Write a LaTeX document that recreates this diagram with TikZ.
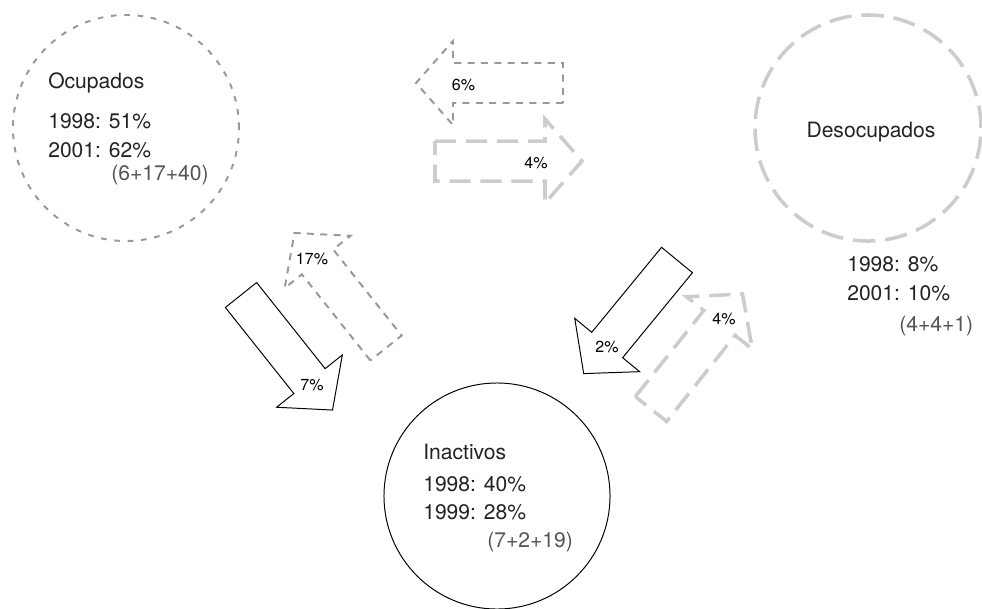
\documentclass[tikz,border=0pt]{standalone}
\usepackage{fontspec}
\setmainfont{TeX Gyre Heros}
\usetikzlibrary{positioning}
\definecolor{flowdark} {RGB}{153,153,153}
\definecolor{flowlight}{RGB}{204,204,204}
\definecolor{txtgray}  {RGB}{35,35,35}
\definecolor{sumgray}  {RGB}{85,85,85}
\tikzset{
  pool/.style={circle,minimum size=5.65cm,inner sep=0pt},
  poolocup/.style={pool,draw=flowdark,line width=1.4pt,
                   dash pattern=on 4pt off 5.5pt},
  pooldesoc/.style={pool,draw=flowlight,line width=2.5pt,
                    dash pattern=on 16pt off 7pt},
  poolinact/.style={pool,draw=black,line width=0.7pt},
  txt/.style={font=\fontsize{15}{18}\selectfont,text=txtgray,
              anchor=base west,inner sep=0pt},
  sumtxt/.style={txt,text=sumgray},
  lbl/.style={font=\fontsize{11.4}{13}\selectfont,inner sep=0pt},
  flow/.pic={\draw[pic actions] (0,-20) -- (110,-20) -- (110,-42) -- (147,0)
                 -- (110,42) -- (110,20) -- (0,20) -- cycle;},
  flowdk/.style={draw=flowdark,line width=1.4pt,dash pattern=on 5pt off 4.5pt},
  flowlt/.style={draw=flowlight,line width=2.5pt,dash pattern=on 15pt off 7pt},
  flowbk/.style={draw=black,line width=0.7pt},
}

\begin{document}
\begin{tikzpicture}[x=0.025cm,y=-0.025cm]
  \useasboundingbox (0,0) rectangle (982,608);

  % Pools
  \node[poolocup]  (OCUP)  at (126,128) {};
  \node[pooldesoc] (DESOC) at (868,128) {};
  \node[poolinact] (INACT) at (497,496) {};

  % Ocupados
  \node[txt]    (OCUP_T)   at (48,88)   {Ocupados};
  \node[txt]    (OCUP_98)  at (48,128)  {1998: 51\%};
  \node[txt]    (OCUP_01)  at (48,157)  {2001: 62\%};
  \node[sumtxt] (OCUP_SUM) at (111,180) {(6+17+40)};

  % Desocupados
  \node[txt,anchor=base] (DESOC_T) at (871,137.6) {Desocupados};
  \node[txt]    (DESOC_98)  at (847,271.6) {1998: 8\%};
  \node[txt]    (DESOC_01)  at (847,300.6) {2001: 10\%};
  \node[sumtxt] (DESOC_SUM) at (899,331.6) {(4+4+1)};

  % Inactivos
  \node[txt]    (INACT_T)   at (423,459.6) {Inactivos};
  \node[txt]    (INACT_98)  at (423,491.6) {1998: 40\%};
  \node[txt]    (INACT_99)  at (423,519.6) {1999: 28\%};
  \node[sumtxt] (INACT_SUM) at (487,547)   {(7+2+19)};

  % Flows
  \pic[flowdk,rotate=180]    at (563,83)  {flow};
  \pic[flowlt]               at (435,161) {flow};
  \pic[flowbk,rotate=-51.5]  at (241,295) {flow};
  \pic[flowdk,rotate=128.5]  at (386,348) {flow};
  \pic[flowbk,rotate=-129.4] at (677,260) {flow};
  \pic[flowlt,rotate=51.5]   at (651,409) {flow};

  % Flow labels
  \node[lbl] (L_OD) at (463.5,85) {6\%};
  \node[lbl] (L_DO) at (536,163)  {4\%};
  \node[lbl] (L_OI) at (312,385)  {7\%};
  \node[lbl] (L_IO) at (312,259)  {17\%};
  \node[lbl] (L_DI) at (607,347)  {2\%};
  \node[lbl] (L_ID) at (724,319)  {4\%};
\end{tikzpicture}
\end{document}
